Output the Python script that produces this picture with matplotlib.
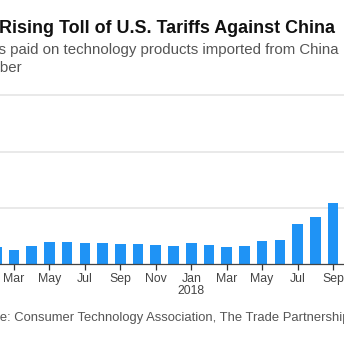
import matplotlib
matplotlib.use("Agg")
import matplotlib.pyplot as plt

# monthly tariffs paid, $ millions (Feb 2017 .. Sep 2018)
months = ["Feb", "Mar", "Apr", "May", "Jun", "Jul", "Aug", "Sep", "Oct", "Nov", "Dec",
          "Jan", "Feb", "Mar", "Apr", "May", "Jun", "Jul", "Aug", "Sep"]
tariffs = [60, 50, 65, 78, 78, 75, 75, 71, 71, 69, 65,
           75, 69, 60, 64, 82, 85, 142, 168, 217]
tick_labels = ["Mar", "May", "Jul", "Sep", "Nov", "Jan\n2018", "Mar", "May", "Jul", "Sep"]
grid_values = [200, 400, 600]

W = H = 344
plt.rcParams["font.family"] = ["Liberation Sans", "DejaVu Sans"]

fig = plt.figure(figsize=(W / 100, H / 100), dpi=100)

# axes placement in pixels (chart is cropped on both sides)
base_px, top_px = 264.3, 89.8
ax = fig.add_axes([0, 1 - base_px / H, 1, (base_px - top_px) / H])

x = list(range(1, len(tariffs) + 1))
ax.bar(x, tariffs, width=0.6, color="#1f93f5", zorder=3)

ax.set_xlim(1.211, 20.62)
ax.set_ylim(0, 620)
ax.set_yticks(grid_values)
ax.yaxis.grid(True, color="#e3e3e3", linewidth=1.1, zorder=0)
ax.tick_params(axis="y", left=False, labelleft=False)

ax.set_xticks(x[1::2])
ax.set_xticklabels(tick_labels, fontsize=8.8, color="#444444", linespacing=1.0)
ax.tick_params(axis="x", length=4, width=0.9, color="#333333", pad=2.0)

for s in ["top", "right", "left"]:
    ax.spines[s].set_visible(False)
ax.spines["bottom"].set_color("#444444")
ax.spines["bottom"].set_linewidth(0.9)
ax.spines["bottom"].set_zorder(4)

fig.canvas.draw()
r = fig.canvas.get_renderer()


def px_width(s, **kw):
    t = fig.text(0, 0, s, **kw)
    w = t.get_window_extent(renderer=r).width
    t.remove()
    return w


title_kw = dict(fontsize=12.9, fontweight="bold", color="#111111")
fig.text(335 / W, 1 - 33 / H, "The Rising Toll of U.S. Tariffs Against China",
         ha="right", va="baseline", **title_kw)

sub_kw = dict(fontsize=10.8, color="#555555")
left = -px_width("Tariff", **sub_kw)
fig.text((left - 2) / W, 1 - 54 / H, "Tariffs paid on technology products imported from China",
         ha="left", va="baseline", **sub_kw)
fig.text((left + 0.5) / W, 1 - 72 / H, "October", ha="left", va="baseline", **sub_kw)

src_kw = dict(fontsize=9.35, color="#555555")
left = -px_width("Sourc", **src_kw)
fig.text(left / W, 1 - 321 / H,
         "Source: Consumer Technology Association, The Trade Partnership",
         ha="left", va="baseline", **src_kw)

fig.savefig("out.png", dpi=100)
